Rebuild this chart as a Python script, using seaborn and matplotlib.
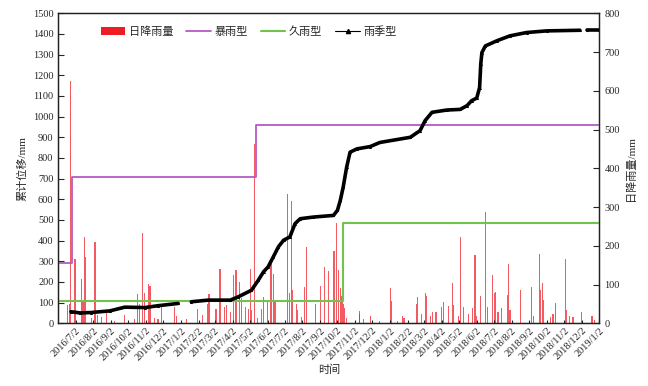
import numpy as np
import pandas as pd
import matplotlib
matplotlib.use("Agg")
import matplotlib.pyplot as plt
from matplotlib.lines import Line2D
from matplotlib.patches import Patch
import seaborn as sns

sns.set_style("ticks")
plt.rcParams['font.family'] = ['Liberation Serif', 'Noto Sans CJK SC']
plt.rcParams['axes.unicode_minus'] = False

# ---------------- data ----------------
rain_dates = ['2016-06-18', '2016-06-21', '2016-06-23', '2016-07-01', '2016-07-13', '2016-07-15',
              '2016-07-17', '2016-07-19', '2016-07-30', '2016-08-05', '2016-08-10', '2016-08-16',
              '2016-08-25', '2016-09-08', '2016-09-26', '2016-10-13', '2016-10-18', '2016-10-21',
              '2016-10-27', '2016-10-30', '2016-11-06', '2016-11-09', '2016-11-17', '2016-11-23',
              '2016-11-29', '2016-12-22', '2016-12-25', '2017-01-11', '2017-01-31', '2017-02-08',
              '2017-02-17', '2017-02-20', '2017-03-04', '2017-03-11', '2017-03-19', '2017-03-23',
              '2017-03-29', '2017-04-03', '2017-04-08', '2017-04-14', '2017-04-18', '2017-04-24',
              '2017-04-30', '2017-05-03', '2017-05-05', '2017-05-11', '2017-05-16', '2017-05-22',
              '2017-05-26', '2017-06-02', '2017-06-08', '2017-06-13', '2017-06-15', '2017-07-07',
              '2017-07-10', '2017-07-14', '2017-07-15', '2017-07-23', '2017-07-25', '2017-08-01',
              '2017-08-05', '2017-08-09', '2017-08-24', '2017-09-02', '2017-09-10', '2017-09-16',
              '2017-09-26', '2017-10-01', '2017-10-04', '2017-10-07', '2017-10-10', '2017-10-13',
              '2017-10-15', '2017-10-18', '2017-11-09', '2017-11-10', '2017-11-16', '2017-11-28',
              '2017-12-14', '2018-01-02', '2018-01-04', '2018-01-15', '2018-01-23', '2018-01-26',
              '2018-02-17', '2018-02-19', '2018-02-26', '2018-03-04', '2018-03-06', '2018-03-13',
              '2018-03-17', '2018-03-23', '2018-04-01', '2018-04-05', '2018-04-14', '2018-04-21',
              '2018-04-23', '2018-05-01', '2018-05-05', '2018-05-10', '2018-05-18', '2018-05-25',
              '2018-05-30', '2018-06-02', '2018-06-08', '2018-06-18', '2018-06-21', '2018-06-29',
              '2018-07-03', '2018-07-05', '2018-07-09', '2018-07-15', '2018-07-26', '2018-07-27',
              '2018-07-30', '2018-08-17', '2018-09-05', '2018-09-09', '2018-09-19', '2018-09-21',
              '2018-09-25', '2018-09-26', '2018-10-09', '2018-10-13', '2018-10-18', '2018-11-04',
              '2018-11-06', '2018-11-11', '2018-11-17', '2018-12-02', '2018-12-19', '2018-12-21',
              '2018-12-25']
rain_mm = [47, 50, 625, 165, 113, 60,
           222, 171, 14, 209, 21, 17,
           27, 5, 21, 11, 75, 51,
           234, 77, 101, 96, 14, 11,
           51, 43, 20, 10, 38, 21,
           49, 75, 36, 139, 43, 47,
           30, 124, 137, 107, 64, 43,
           38, 139, 33, 463, 14, 38,
           68, 60, 154, 128, 60, 334,
           77, 316, 86, 51, 34, 17,
           94, 197, 49, 96, 145, 134,
           186, 259, 137, 90, 70, 50,
           39, 14, 32, 24, 10, 19,
           6, 90, 58, 6, 19, 13,
           51, 67, 24, 79, 70, 19,
           30, 30, 43, 56, 45, 104,
           47, 19, 222, 43, 24, 39,
           175, 19, 70, 286, 43, 124,
           77, 81, 30, 39, 73, 152,
           34, 86, 94, 19, 180, 86,
           104, 60, 17, 24, 53, 167,
           34, 19, 17, 30, 19, 19,
           8]

disp_dates = ['2016-06-24', '2016-07-10', '2016-07-29', '2016-08-31', '2016-09-26', '2016-10-31',
              '2016-11-23', '2016-12-28', '2017-01-04', '2017-01-20', '2017-02-18', '2017-03-29',
              '2017-04-12', '2017-05-05', '2017-05-17', '2017-05-26', '2017-06-03', '2017-06-12',
              '2017-06-21', '2017-06-30', '2017-07-11', '2017-07-20', '2017-07-29', '2017-08-21',
              '2017-09-25', '2017-10-02', '2017-10-07', '2017-10-12', '2017-10-18', '2017-10-24',
              '2017-11-05', '2017-11-28', '2017-12-15', '2018-02-06', '2018-02-23', '2018-03-04',
              '2018-03-16', '2018-04-11', '2018-05-04', '2018-05-16', '2018-05-24', '2018-06-02',
              '2018-06-07', '2018-06-09', '2018-06-11', '2018-06-17', '2018-07-07', '2018-07-30',
              '2018-08-28', '2018-10-02', '2018-11-29', '2018-12-04', '2018-12-11', '2019-01-01']
disp_mm = [56, 50, 52, 60, 78, 76,
           85, 96, np.nan, 104, 112, 112,
           128, 160, 209, 249, 273, 321,
           370, 402, 418, 482, 506, 514,
           522, 547, 595, 659, 755, 828,
           844, 855, 875, 900, 932, 981,
           1021, 1032, 1035, 1053, 1077, 1090,
           1141, 1254, 1310, 1342, 1367, 1391,
           1407, 1415, 1418, np.nan, 1420, 1420]

storm_dates = ['2016-06-02', '2016-06-26', '2017-05-13', '2019-01-02']
storm_mm = [290, 710, 960, 960]
long_dates = ['2016-06-02', '2017-10-12', '2019-01-02']
long_mm = [110, 485, 485]

x_start, x_end = '2016-06-02', '2019-01-02'
tick_dates = pd.date_range('2016-06-02', '2019-01-02', freq='MS') + pd.Timedelta(days=1)

# ---------------- figure ----------------
fig = plt.figure(figsize=(6.48, 3.86), dpi=100)
ax = fig.add_axes([0.090, 0.1625, 0.835, 0.803])
ax2 = ax.twinx()

red = '#ee1c24'
purple = '#b25cc2'
green = '#72c24c'

# rainfall bars (right axis)
rd = pd.to_datetime(rain_dates)
ax2.bar(rd, rain_mm, width=2.0, color=red, alpha=0.72, linewidth=0, zorder=1)
ax2.set_ylim(0, 800)
ax2.set_yticks(range(0, 801, 100))
ax2.set_ylabel('日降雨量/mm', fontsize=8, labelpad=4)

# thresholds and displacement (left axis), drawn above bars
ax.set_zorder(ax2.get_zorder() + 1)
ax.patch.set_visible(False)

sdf = pd.DataFrame({'date': pd.to_datetime(storm_dates), 'v': storm_mm})
sns.lineplot(data=sdf, x='date', y='v', ax=ax, color=purple, lw=1.3,
             drawstyle='steps-post', estimator=None, sort=False)
ldf = pd.DataFrame({'date': pd.to_datetime(long_dates), 'v': long_mm})
sns.lineplot(data=ldf, x='date', y='v', ax=ax, color=green, lw=1.5,
             drawstyle='steps-post', estimator=None, sort=False)

ddf = pd.DataFrame({'date': pd.to_datetime(disp_dates), 'v': disp_mm})
ddf['seg'] = ddf['v'].isna().cumsum()
ddf = ddf.dropna()
sns.lineplot(data=ddf, x='date', y='v', units='seg', estimator=None, ax=ax,
             color='black', lw=2.6, marker='^', markersize=2.2, markeredgewidth=0)

ax.set_xlim(pd.Timestamp(x_start), pd.Timestamp(x_end))
ax.set_ylim(0, 1500)
ax.set_yticks(range(0, 1501, 100))
ax.set_xticks(tick_dates)
ax.set_xticklabels([f'{d.year}/{d.month}/{d.day}' for d in tick_dates],
                   rotation=45, ha='right', rotation_mode='anchor')
ax.set_ylabel('累计位移/mm', fontsize=8, labelpad=4)
ax.set_xlabel('时间', fontsize=8, labelpad=2)

for a in (ax, ax2):
    a.tick_params(direction='in', labelsize=7.5, length=4, width=0.8)
    for s in a.spines.values():
        s.set_linewidth(0.9)
        s.set_color('#222222')
ax.tick_params(axis='x', length=2, pad=2)

handles = [Patch(facecolor=red, edgecolor='none'),
           Line2D([], [], color=purple, lw=1.3),
           Line2D([], [], color=green, lw=1.5),
           Line2D([], [], color='black', lw=0.8, marker='^', markersize=3)]
labels = ['日降雨量', '暴雨型', '久雨型', '雨季型']
ax.legend(handles, labels, loc='upper left', bbox_to_anchor=(0.06, 0.99), ncol=4,
          frameon=False, fontsize=8, handlelength=2.2, handletextpad=0.3,
          columnspacing=1.2)

fig.savefig('out.png', dpi=100)
